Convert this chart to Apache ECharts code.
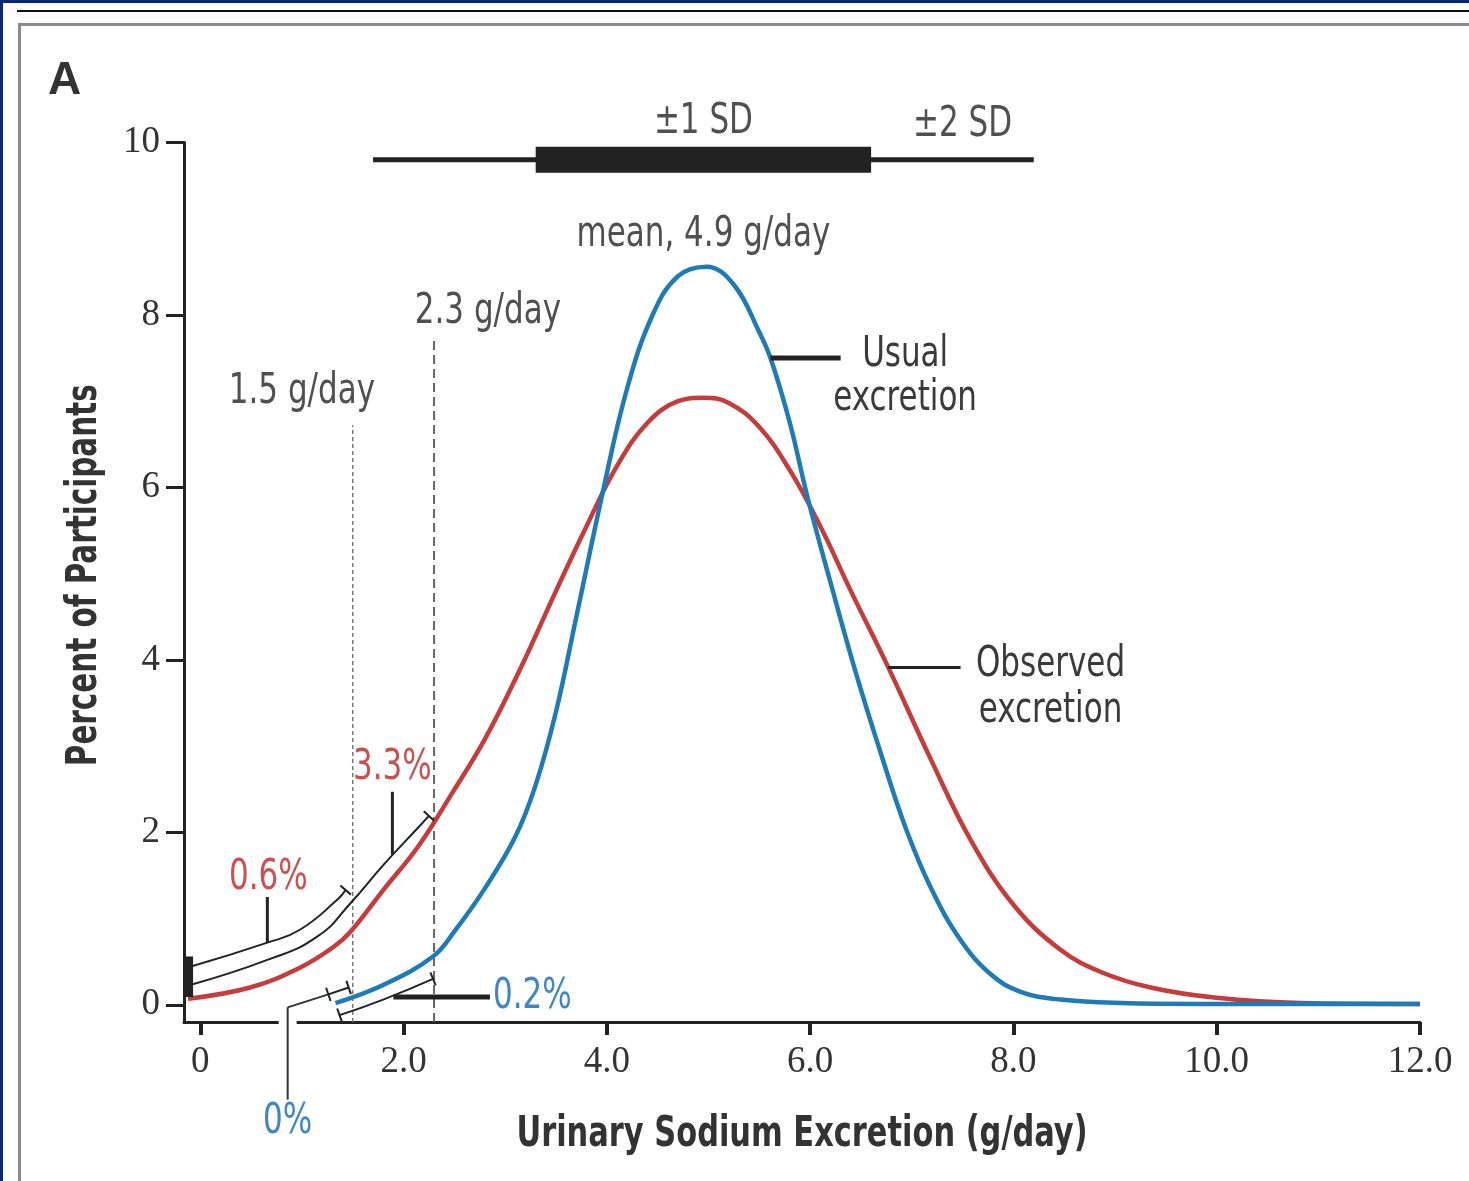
<!DOCTYPE html>
<html>
<head>
<meta charset="utf-8">
<script src="https://cdn.jsdelivr.net/npm/echarts@6/dist/echarts.min.js"></script>
<style>
  html, body { margin: 0; padding: 0; background: #fff; }
  #chart { width: 1469px; height: 1181px; }
</style>
</head>
<body>
<div id="chart"></div>
<script>
// Distribution of urinary sodium excretion (percent of participants per g/day)
const xTicks = [0, 2, 4, 6, 8, 10, 12];
const xTickLabels = ['0', '2.0', '4.0', '6.0', '8.0', '10.0', '12.0'];
const yTicks = [0, 2, 4, 6, 8, 10];
const yTickLabels = ['0', '2', '4', '6', '8', '10'];
const xTitle = 'Urinary Sodium Excretion (g/day)';
const yTitle = 'Percent of Participants';

// Observed excretion
const observedX   = [-0.12, 0.49, 0.98, 1.31, 1.48, 1.80, 2.14, 2.46, 2.80, 3.15, 3.50, 3.80, 4.10, 4.40, 4.70, 4.95, 5.20, 5.50, 5.80, 6.10, 6.40, 6.77, 7.19, 7.58, 8.00, 8.46, 8.86, 9.35, 10.00, 10.83, 12.00];
const observedPct = [0.07, 0.20, 0.43, 0.67, 0.85, 1.33, 1.83, 2.42, 3.08, 3.90, 4.80, 5.55, 6.25, 6.75, 7.00, 7.04, 6.98, 6.70, 6.20, 5.55, 4.80, 3.91, 2.84, 1.91, 1.16, 0.64, 0.38, 0.20, 0.08, 0.02, 0.01];

// Usual excretion
const usualX   = [1.33, 1.80, 2.29, 2.50, 2.80, 3.10, 3.30, 3.50, 3.70, 3.97, 4.20, 4.45, 4.70, 4.98, 5.25, 5.50, 5.61, 5.80, 5.98, 6.20, 6.45, 6.70, 6.94, 7.19, 7.48, 7.78, 8.07, 8.46, 9.06, 9.84, 12.00];
const usualPct = [0.02, 0.23, 0.56, 0.85, 1.35, 1.95, 2.55, 3.40, 4.50, 6.00, 7.15, 8.00, 8.45, 8.56, 8.35, 7.80, 7.50, 6.75, 5.86, 4.90, 3.85, 2.90, 2.05, 1.35, 0.75, 0.35, 0.15, 0.06, 0.02, 0.01, 0.01];

// Thresholds and summary values
const cutoffs = [1.5, 2.3];
const cutoffLabels = ['1.5 g/day', '2.3 g/day'];
const meanLabel = 'mean, 4.9 g/day';
const sdOneRange = [3.3, 6.6];
const sdTwoRange = [1.7, 8.2];
const observedShares = ['0.6%', '3.3%'];   // below 1.5 and 2.3 g/day
const usualShares = ['0%', '0.2%'];        // below 1.5 and 2.3 g/day

// Bracket paths hugging the curves below each threshold
const bracketObserved15 = [[-0.10, 0.44], [0.66, 0.72], [0.98, 0.87], [1.35, 1.22], [1.43, 1.33]];
const bracketObserved23 = [[-0.10, 0.23], [0.66, 0.52], [1.15, 0.79], [1.48, 1.18], [1.80, 1.62], [2.14, 2.05], [2.25, 2.19]];
const bracketUsual15 = [[1.26, 0.12], [1.46, 0.20]];
const bracketUsual23 = [[1.37, -0.12], [1.80, 0.06], [2.29, 0.30]];

const RED = '#c63b3b';
const BLUE = '#1f7bb6';
const RED_TEXT = '#c9514f';
const BLUE_TEXT = '#3f86c4';
const INK = '#222';
const GRAY_TEXT = '#505050';
const NARROW = "'Liberation Sans Narrow', 'DejaVu Sans Condensed', 'Roboto', sans-serif";
const SERIF = "'Liberation Serif', 'DejaVu Serif', serif";
const TEXT_SQUEEZE = 0.82;   // condensed lettering

const zip = (xs, ys) => xs.map((x, i) => [x, ys[i]]);

function renderCutoffLines(params, api) {
  const children = cutoffs.map((c, i) => {
    const top = i === 0 ? 6.72 : 7.71;
    const a = api.coord([c, -0.2]);
    const b = api.coord([c, top]);
    return {
      type: 'line',
      shape: { x1: a[0], y1: a[1], x2: b[0], y2: b[1] },
      style: { stroke: i === 0 ? '#777' : '#666', lineWidth: i === 0 ? 1.5 : 2, lineDash: i === 0 ? [4, 3] : [9, 5] }
    };
  });
  return { type: 'group', children };
}

function renderAnnotations(params, api) {
  const P = (x, y) => api.coord([x, y]);
  const children = [];
  const seg = (a, b, w, color) => children.push({
    type: 'line',
    shape: { x1: a[0], y1: a[1], x2: b[0], y2: b[1] },
    style: { stroke: color || INK, lineWidth: w }
  });
  const label = (str, p, color, extra) => children.push({
    type: 'text',
    x: p[0], y: p[1], scaleX: TEXT_SQUEEZE,
    style: Object.assign({
      text: str, x: 0, y: 0, align: 'center', verticalAlign: 'middle',
      fill: color || GRAY_TEXT, fontSize: 42, fontFamily: NARROW
    }, extra || {})
  });
  const cap = (end, prev, half) => {
    const dx = end[0] - prev[0], dy = end[1] - prev[1];
    const len = Math.hypot(dx, dy) || 1;
    const nx = -dy / len * half, ny = dx / len * half;
    seg([end[0] - nx, end[1] - ny], [end[0] + nx, end[1] + ny], 2);
  };
  const bracket = (pts, capStart, capEnd) => {
    const px = pts.map(p => P(p[0], p[1]));
    children.push({ type: 'polyline', shape: { points: px, smooth: 0.5 }, style: { stroke: INK, lineWidth: 2, fill: 'none' } });
    if (capStart) cap(px[0], px[1], 7);
    if (capEnd) cap(px[px.length - 1], px[px.length - 2], 7);
  };

  // SD bar
  seg(P(sdTwoRange[0], 9.8), P(sdTwoRange[1], 9.8), 5);
  seg(P(sdOneRange[0], 9.8), P(sdOneRange[1], 9.8), 26);
  label('\u00b11 SD', P((sdOneRange[0] + sdOneRange[1]) / 2, 10.24));
  label('\u00b12 SD', P(7.5, 10.2));
  label(meanLabel, P(4.95, 8.93));

  // threshold labels
  label(cutoffLabels[0], P(1.0, 7.11));
  label(cutoffLabels[1], P(2.83, 8.03));

  // series labels with leaders
  seg(P(5.61, 7.50), P(6.30, 7.50), 5);
  label('Usual\nexcretion', P(6.935, 7.285), '#3a3a3a', { lineHeight: 44 });
  seg(P(6.77, 3.91), P(7.48, 3.91), 3);
  label('Observed\nexcretion', P(8.365, 3.67), '#3a3a3a', { lineHeight: 46 });

  // observed brackets (shared left cap on the axis)
  bracket(bracketObserved15, false, true);
  bracket(bracketObserved23, false, true);
  seg(P(-0.11, 0.09), P(-0.11, 0.56), 8);
  seg(P(0.66, 0.72), P(0.66, 1.25), 3);
  label(observedShares[0], P(0.67, 1.47), RED_TEXT);
  seg(P(1.89, 1.74), P(1.89, 2.47), 3);
  label(observedShares[1], P(1.89, 2.75), RED_TEXT);

  // usual brackets
  bracket(bracketUsual23, true, true);
  seg(P(1.90, 0.09), P(2.85, 0.09), 5);
  label(usualShares[1], P(2.88, 0.09), BLUE_TEXT, { align: 'left' });

  bracket(bracketUsual15, true, true);
  const gapC = P(0.86, -0.2);
  children.push({ type: 'rect', shape: { x: gapC[0] - 9, y: gapC[1] - 3, width: 18, height: 6 }, style: { fill: '#fff' } });
  const h0 = P(1.26, 0.12), kink = P(0.86, -0.03), foot = P(0.86, -1.10);
  seg(h0, kink, 2, '#333');
  seg(kink, foot, 2, '#333');
  label(usualShares[0], P(0.86, -1.36), BLUE_TEXT);

  // axis titles
  const xMid = P(5.92, -0.2), yMid = P(-0.16, 4.9);
  children.push({
    type: 'text', x: xMid[0], y: xMid[1] + 113, scaleX: 0.787,
    style: { text: xTitle, x: 0, y: 0, align: 'center', verticalAlign: 'middle', fill: '#333', fontWeight: 'bold', fontSize: 43, fontFamily: NARROW }
  });
  children.push({
    type: 'text', x: yMid[0] - 99, y: yMid[1] - 7, rotation: Math.PI / 2, scaleX: 0.76,
    style: { text: yTitle, x: 0, y: 0, align: 'center', verticalAlign: 'middle', fill: '#333', fontWeight: 'bold', fontSize: 43, fontFamily: NARROW }
  });

  return { type: 'group', children };
}

const chart = echarts.init(document.getElementById('chart'), null, { renderer: 'canvas' });

chart.setOption({
  animation: false,
  backgroundColor: '#ffffff',
  grid: { left: 184, right: 49, top: 142.5, bottom: 159, containLabel: false, outerBoundsMode: 'none' },
  xAxis: {
    type: 'value', min: -0.16, max: 12,
    axisLine: { onZero: false, lineStyle: { color: INK, width: 3 } },
    axisTick: { customValues: xTicks, length: 13, lineStyle: { color: INK, width: 4 } },
    axisLabel: {
      customValues: xTicks,
      formatter: v => xTickLabels[xTicks.indexOf(v)],
      margin: 22, fontFamily: SERIF, fontSize: 37, color: '#333'
    },
    splitLine: { show: false }
  },
  yAxis: {
    type: 'value', min: -0.2, max: 10,
    axisLine: { show: true, onZero: false, lineStyle: { color: INK, width: 3 } },
    axisTick: { show: true, customValues: yTicks, length: 18, lineStyle: { color: INK, width: 3 } },
    axisLabel: {
      customValues: yTicks,
      formatter: v => yTickLabels[yTicks.indexOf(v)],
      margin: 24, fontFamily: SERIF, fontSize: 37, color: '#333'
    },
    splitLine: { show: false }
  },
  graphic: [
    { type: 'rect', left: 0, top: 0, shape: { width: 1469, height: 3 }, style: { fill: '#0a2778' }, z: 100 },
    { type: 'rect', left: 0, top: 0, shape: { width: 3, height: 1181 }, style: { fill: '#0a2778' }, z: 100 },
    { type: 'rect', left: 17, top: 10, shape: { width: 1452, height: 2 }, style: { fill: '#111' }, z: 100 },
    { type: 'rect', left: 18, top: 23, shape: { width: 1451, height: 3 }, style: { fill: '#8a8a8a' }, z: 100 },
    { type: 'rect', left: 18, top: 23, shape: { width: 3, height: 1158 }, style: { fill: '#8a8a8a' }, z: 100 },
    { type: 'text', left: 48, top: 58, style: { text: 'A', fontFamily: "'Liberation Sans', Arial, sans-serif", fontWeight: 'bold', fontSize: 46, fill: '#333' }, z: 100 }
  ],
  series: [
    {
      type: 'custom', name: 'cutoffs', coordinateSystem: 'cartesian2d',
      data: [[0, 0]], renderItem: renderCutoffLines, silent: true, z: 1
    },
    {
      type: 'line', name: 'Observed excretion', data: zip(observedX, observedPct),
      smooth: 0.4, symbol: 'none', clip: false,
      lineStyle: { color: RED, width: 4.5 }, z: 2
    },
    {
      type: 'line', name: 'Usual excretion', data: zip(usualX, usualPct),
      smooth: 0.4, symbol: 'none', clip: false,
      lineStyle: { color: BLUE, width: 4.5 }, z: 2
    },
    {
      type: 'custom', name: 'annotations', coordinateSystem: 'cartesian2d',
      data: [[0, 0]], renderItem: renderAnnotations, silent: true, z: 3
    }
  ]
});
</script>
</body>
</html>
